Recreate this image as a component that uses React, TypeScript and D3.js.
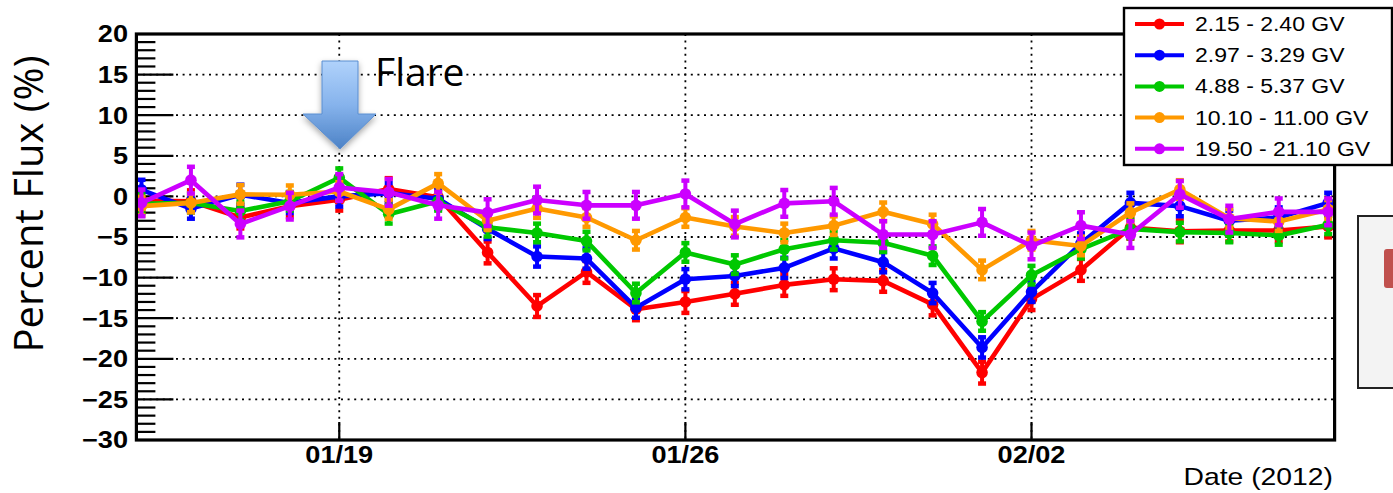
import React from "react";
import * as d3 from "d3";

// ---------- data ----------
const dates = [
  "2012-01-15", "2012-01-16", "2012-01-17", "2012-01-18", "2012-01-19",
  "2012-01-20", "2012-01-21", "2012-01-22", "2012-01-23", "2012-01-24",
  "2012-01-25", "2012-01-26", "2012-01-27", "2012-01-28", "2012-01-29",
  "2012-01-30", "2012-01-31", "2012-02-01", "2012-02-02", "2012-02-03",
  "2012-02-04", "2012-02-05", "2012-02-06", "2012-02-07", "2012-02-08",
];

const seriesNames = [
  "2.15 - 2.40 GV",
  "2.97 - 3.29 GV",
  "4.88 - 5.37 GV",
  "10.10 - 11.00 GV",
  "19.50 - 21.10 GV",
];

const flux215 = [-0.5, -0.6, -2.6, -1.2, -0.4, 0.9, -0.1, -6.9, -13.5, -9.3, -13.9, -13.0, -12.0, -10.9, -10.2, -10.4, -13.3, -21.7, -12.65, -9.05, -3.85, -4.3, -4.2, -4.2, -3.7];
const flux297 = [0.8, -1.5, 0.2, -0.8, 0.0, 0.4, -0.3, -4.0, -7.4, -7.65, -13.7, -10.2, -9.8, -8.8, -6.4, -8.1, -11.9, -18.6, -11.75, -5.8, -0.8, -1.2, -3.0, -2.6, -0.8];
const flux488 = [-0.9, -0.8, -1.8, -0.6, 2.3, -2.2, -0.6, -3.8, -4.5, -5.5, -11.9, -6.9, -8.4, -6.5, -5.4, -5.7, -7.3, -15.4, -9.7, -6.5, -4.0, -4.4, -4.5, -4.8, -3.5];
const flux1010 = [-1.2, -0.8, 0.25, 0.2, 0.6, -1.6, 1.6, -3.0, -1.5, -2.6, -5.4, -2.6, -3.7, -4.5, -3.6, -1.9, -3.4, -9.05, -5.4, -6.1, -2.0, 0.85, -2.7, -3.1, -1.6];
const flux1950 = [-0.8, 2.0, -3.4, -1.2, 1.1, 0.5, -1.1, -2.0, -0.45, -1.1, -1.1, 0.3, -3.4, -0.86, -0.6, -4.7, -4.7, -3.2, -6.1, -3.6, -4.7, 0.25, -2.8, -1.9, -1.9];
const fluxErrors = [1.5, 1.4, 1.3, 1.3, 1.8];

const yTickValues = [20, 15, 10, 5, 0, -5, -10, -15, -20, -25, -30];
const xTickDates = ["2012-01-19", "2012-01-26", "2012-02-02"];
const xTickLabels = ["01/19", "01/26", "02/02"];

// ---------- style ----------
const colors = ["#ff0000", "#0000ff", "#00c800", "#ff9900", "#cc00ff"];
const W = 1393;
const H = 493;
const FL = 136.4, FR = 1334.6, FT = 34, FB = 440;
const ROOTFONT = "'Liberation Sans', Arial, Helvetica, sans-serif";
const SX = 1.18;

const parse = d3.timeParse("%Y-%m-%d");

export default function App() {
  const allSeries = [flux215, flux297, flux488, flux1010, flux1950];
  const x = d3
    .scaleTime()
    .domain([new Date(2012, 0, 14, 21, 32), new Date(2012, 1, 8, 3, 7)])
    .range([FL, FR]);
  const y = d3.scaleLinear().domain([-30, 20]).range([FB, FT]);
  const parsedDates = dates.map((d) => parse(d) as Date);

  const minorTicks = d3.range(-30, 21, 1).filter((v) => v % 5 !== 0);
  const gridY = yTickValues.filter((v) => v !== 20 && v !== -30);

  const line = d3
    .line<[Date, number]>()
    .x((d) => x(d[0]))
    .y((d) => y(d[1]));

  const legendRows = seriesNames.map((_, i) => 24 + i * 31.2);

  return (
    <svg
      width={W}
      height={H}
      style={{ position: "absolute", left: 0, top: 0, background: "#fff" }}
    >
      <defs>
        <linearGradient id="arrowGrad" x1="0" y1="0" x2="0" y2="1">
          <stop offset="0" stopColor="#b0d2fb" />
          <stop offset="0.5" stopColor="#86b3ec" />
          <stop offset="1" stopColor="#4c82c6" />
        </linearGradient>
        <filter id="shadow" x="-30%" y="-30%" width="160%" height="160%">
          <feDropShadow dx="0" dy="3" stdDeviation="3" floodColor="#000" floodOpacity="0.35" />
        </filter>
        <clipPath id="plotClip">
          <rect x={FL} y={FT} width={FR - FL} height={FB - FT} />
        </clipPath>
      </defs>

      {/* grid */}
      <g stroke="#000" strokeWidth={1.8} strokeDasharray="2 4.6">
        {gridY.map((v) => (
          <line key={"gy" + v} x1={FL} x2={FR} y1={y(v)} y2={y(v)} />
        ))}
        {xTickDates.map((d) => (
          <line key={"gx" + d} x1={x(parse(d) as Date)} x2={x(parse(d) as Date)} y1={FT} y2={FB} />
        ))}
      </g>

      {/* ticks */}
      <g stroke="#000" strokeWidth={2.2}>
        {yTickValues.map((v) => (
          <line key={"mt" + v} x1={FL} x2={FL + 37} y1={y(v)} y2={y(v)} />
        ))}
        {minorTicks.map((v) => (
          <line key={"mn" + v} x1={FL} x2={FL + 19} y1={y(v)} y2={y(v)} />
        ))}
        {xTickDates.map((d) => (
          <line key={"xt" + d} x1={x(parse(d) as Date)} x2={x(parse(d) as Date)} y1={FB} y2={FB - 18} />
        ))}
      </g>

      {/* series */}
      <g clipPath="url(#plotClip)">
        {allSeries.map((vals, si) => {
          const pts: [Date, number][] = vals.map((v, i) => [parsedDates[i], v]);
          const c = colors[si];
          const e = fluxErrors[si];
          return (
            <g key={"s" + si}>
              <path d={line(pts) || ""} fill="none" stroke={c} strokeWidth={4.6} strokeLinejoin="round" />
              {pts.map((p, i) => {
                const px = x(p[0]);
                const y1 = y(p[1] + e);
                const y2 = y(p[1] - e);
                return (
                  <g key={"e" + i} fill={c}>
                    <line x1={px} x2={px} y1={y1} y2={y2} stroke={c} strokeWidth={4} />
                    <rect x={px - 4} y={y1 - 1} width={8} height={4.5} />
                    <rect x={px - 4} y={y2 - 3.5} width={8} height={4.5} />
                    <circle cx={px} cy={y(p[1])} r={5.8} />
                  </g>
                );
              })}
            </g>
          );
        })}
      </g>

      {/* frame */}
      <rect x={FL} y={FT} width={FR - FL} height={FB - FT} fill="none" stroke="#000" strokeWidth={3.2} />

      {/* y tick labels */}
      <g fontFamily={ROOTFONT} fontWeight="bold" fontSize={23} fill="#000">
        {yTickValues.map((v) => (
          <text
            key={"yl" + v}
            transform={`translate(128,${y(v) + 8.3}) scale(${SX},1)`}
            textAnchor="end"
          >
            {v < 0 ? "\u2212" + Math.abs(v) : String(v)}
          </text>
        ))}
        {xTickDates.map((d, i) => (
          <text
            key={"xl" + d}
            transform={`translate(${x(parse(d) as Date)},463) scale(${SX},1)`}
            textAnchor="middle"
          >
            {xTickLabels[i]}
          </text>
        ))}
      </g>

      <text
        transform={`translate(1333,485) scale(${SX},1)`}
        textAnchor="end"
        fontFamily={ROOTFONT}
        fontSize={24}
      >
        Date (2012)
      </text>

      {/* y title */}
      <text
        transform="translate(43,204) rotate(-90)"
        textAnchor="middle"
        fontFamily="'Open Sans', sans-serif"
        fontSize={40}
      >
        Percent Flux (%)
      </text>

      {/* flare annotation */}
      <polygon
        points="322,61 358,61 358,114 376,114 340,149 303,114 322,114"
        fill="url(#arrowGrad)"
        stroke="#5b8ed0"
        strokeWidth={1}
        filter="url(#shadow)"
      />
      <text x={375} y={86} fontFamily="'Open Sans', sans-serif" fontSize={39}>
        Flare
      </text>

      {/* legend */}
      <rect x={1124} y={8} width={268} height={157} fill="#fff" stroke="#000" strokeWidth={2.4} />
      {seriesNames.map((name, i) => (
        <g key={"lg" + i}>
          <line x1={1135} x2={1184} y1={legendRows[i]} y2={legendRows[i]} stroke={colors[i]} strokeWidth={4} />
          <circle cx={1159.5} cy={legendRows[i]} r={5.5} fill={colors[i]} />
          <text
            transform={`translate(1195,${legendRows[i] + 7}) scale(${SX},1)`}
            fontFamily={ROOTFONT}
            fontSize={19.5}
          >
            {name}
          </text>
        </g>
      ))}

      {/* partial box at right edge */}
      <rect x={1358} y={216} width={60} height={172} fill="#f3f3f3" stroke="#222" strokeWidth={2} />
      <rect x={1384} y={249} width={30} height={39} rx={3} fill="#c0504d" />
    </svg>
  );
}
